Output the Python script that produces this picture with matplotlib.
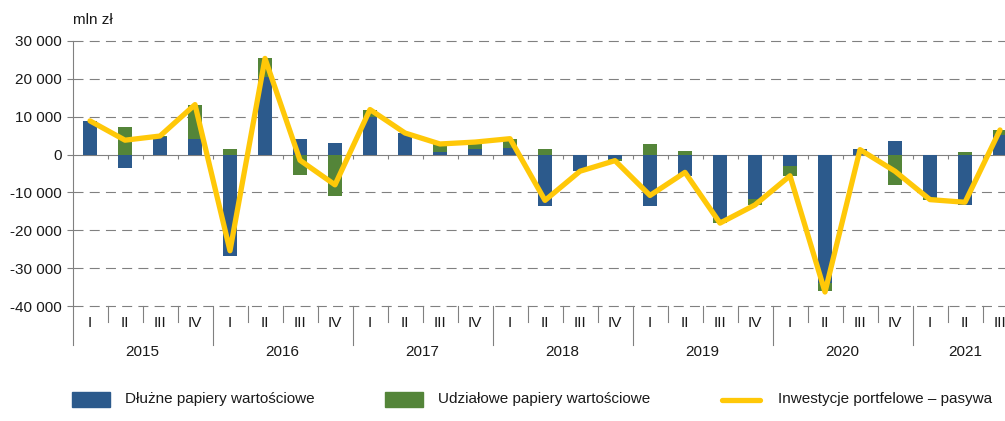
import matplotlib.pyplot as plt
from matplotlib.lines import Line2D
from matplotlib.patches import Rectangle
import numpy as np

plt.rcParams['font.family'] = ['Liberation Sans', 'DejaVu Sans']

years = ['2015', '2016', '2017', '2018', '2019', '2020', '2021']
quarters = ['I', 'II', 'III', 'IV'] * 6 + ['I', 'II', 'III']

# mln zł
dluzne = [8800, -3500, 4700, 4200, -26800, 20500, 4200, 3100,
          10000, 5600, 600, 1500, 1800, -13700, -4400, -1150,
          -13500, -5750, -17100, -11800, -2900, -34000, 1500, 3600,
          -11200, -13300, 5300]
udzialowe = [100, 7350, 200, 8850, 1600, 4900, -5500, -11000,
             1700, 100, 2200, 1600, 2200, 1600, 0, -500,
             2800, 900, -1000, -1600, -2700, -2000, -200, -8100,
             -900, 700, 1100]
inwestycje = [8900, 3800, 4900, 13200, -25400, 25400, -1500, -8000,
              11900, 5700, 2800, 3300, 4200, -12100, -4400, -1600,
              -10800, -4700, -18100, -13300, -5600, -36300, 1300, -4400,
              -11900, -12600, 6500]

blue = '#2c5a8c'
green = '#548539'
yellow = '#ffc808'
gray = '#808080'

fig = plt.figure(figsize=(10.05, 4.21), dpi=100)
W, H = 1005, 421
ax_left, ax_right, ax_top, ax_bot = 72.5, 1017.5, 41, 306
ax = fig.add_axes([ax_left / W, 1 - ax_bot / H, (ax_right - ax_left) / W, (ax_bot - ax_top) / H])

x = np.arange(len(quarters))
d = np.array(dluzne)
u = np.array(udzialowe)
u_bottom = np.where(np.sign(u) == np.sign(d), d, 0)

ax.bar(x, d, width=0.4, color=blue, zorder=3)
ax.bar(x, u, width=0.4, bottom=u_bottom, color=green, zorder=3)
ax.plot(x, inwestycje, color=yellow, lw=3.8, solid_joinstyle='round',
        solid_capstyle='round', zorder=4)

ax.set_xlim(-0.5, len(quarters) - 0.5)
ax.set_ylim(-40000, 30000)

yticks = np.arange(-40000, 30001, 10000)
ax.set_yticks(yticks)
ax.set_yticklabels([f'{v:,}'.replace(',', ' ') for v in yticks])
for v in yticks:
    if v == 0:
        continue
    gl = ax.axhline(v, color=gray, lw=0.8, zorder=1, clip_on=False)
    gl.set_dashes((9, 5.6))

for s in ['top', 'right']:
    ax.spines[s].set_visible(False)
ax.spines['left'].set_color(gray)
ax.spines['bottom'].set_position(('data', 0))
ax.spines['bottom'].set_color(gray)
ax.spines['bottom'].set_zorder(2)
ax.set_xticks(x[:-1] + 0.5)
ax.set_xticklabels([])
ax.tick_params(axis='x', direction='out', length=3, color=gray)
ax.tick_params(axis='y', direction='out', length=4, color=gray, pad=4,
               labelsize=11, labelcolor='#1a1a1a')

# etykiety kwartałów i lat pod osią
trans = ax.get_xaxis_transform()
hpx = ax_bot - ax_top
q_sep = -16 / hpx
y_sep = -39 / hpx
for i, q in enumerate(quarters):
    ax.text(i, -17 / hpx, q, transform=trans, ha='center', va='center',
            fontsize=11, color='#1a1a1a')
for i in range(len(quarters) + 1):
    bottom = y_sep if i % 4 == 0 else q_sep
    ax.add_line(Line2D([i - 0.5, i - 0.5], [0, bottom], transform=trans,
                       color=gray, lw=0.8, clip_on=False))
for k, yr in enumerate(years):
    n = min(4, len(quarters) - 4 * k)
    ax.text(4 * k + (n - 1) / 2, -46 / hpx, yr, transform=trans, ha='center',
            va='center', fontsize=11, color='#1a1a1a')

fig.text(73 / W, 1 - 20 / H, 'mln zł', ha='left', va='center', fontsize=11, color='#1a1a1a')

# legenda
ly = 1 - 399.5 / H
fig.patches.append(Rectangle((72 / W, 1 - 407 / H), 38 / W, 15 / H, color=blue, transform=fig.transFigure))
fig.text(125 / W, ly, 'Dłużne papiery wartościowe', va='center', fontsize=11, color='#1a1a1a')
fig.patches.append(Rectangle((385 / W, 1 - 407 / H), 38 / W, 15 / H, color=green, transform=fig.transFigure))
fig.text(438 / W, ly, 'Udziałowe papiery wartościowe', va='center', fontsize=11, color='#1a1a1a')
fig.lines.append(Line2D([722 / W, 760 / W], [ly, ly], color=yellow, lw=3.8,
                        solid_capstyle='round', transform=fig.transFigure))
fig.text(778 / W, ly, 'Inwestycje portfelowe – pasywa', va='center', fontsize=11, color='#1a1a1a')

fig.savefig('out.png', dpi=100)
